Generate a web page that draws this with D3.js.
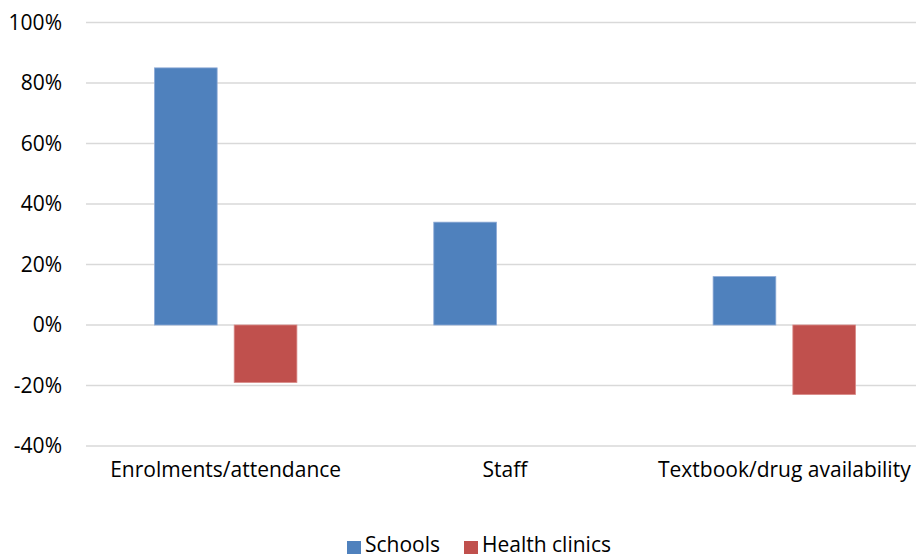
<!DOCTYPE html>
<html>
<head>
<meta charset="utf-8">
<script src="https://cdn.jsdelivr.net/npm/d3@7"></script>
<style>
  body { margin: 0; background: #fff; }
  svg text { font-family: "Open Sans", Lato, sans-serif; fill: #000; }
</style>
</head>
<body>
<svg width="916" height="557"></svg>
<script>
// Données
const categories = ["Enrolments/attendance", "Staff", "Textbook/drug availability"];
const seriesNames = ["Schools", "Health clinics"];
const schools = [0.85, 0.34, 0.16];
const clinics = [-0.19, null, -0.23];
const yTicks = [-0.4, -0.2, 0, 0.2, 0.4, 0.6, 0.8, 1.0];
const colors = ["#4F81BD", "#C0504D"];
const strokes = ["#8DAAD6", "#D98A88"];

const svg = d3.select("svg");
const margin = { left: 86, right: -8, top: 22.5, bottom: 111 };
const width = +svg.attr("width"), height = +svg.attr("height");

const x0 = d3.scaleBand()
    .domain(categories)
    .range([margin.left, width - margin.right]);

const groupW = x0.bandwidth() * 0.51;
const x1 = d3.scaleBand()
    .domain(seriesNames)
    .range([(x0.bandwidth() - groupW) / 2, (x0.bandwidth() + groupW) / 2])
    .paddingInner(0.2136);

const y = d3.scaleLinear()
    .domain([-0.4, 1.0])
    .range([height - margin.bottom, margin.top]);

const pct = d => d3.format(".0%")(d).replace("\u2212", "-");

// Grille
svg.append("g")
    .selectAll("line")
    .data(yTicks)
    .join("line")
    .attr("x1", margin.left)
    .attr("x2", width - margin.right)
    .attr("y1", d => y(d))
    .attr("y2", d => y(d))
    .attr("stroke", "#D9D9D9")
    .attr("stroke-width", 1.5);

// Étiquettes de l'axe Y
svg.append("g")
    .selectAll("text")
    .data(yTicks)
    .join("text")
    .attr("x", 62)
    .attr("y", d => y(d))
    .attr("dy", "0.35em")
    .attr("text-anchor", "end")
    .style("font-size", "21px")
    .text(pct);

// Barres
const rows = categories.map((c, i) => ({ category: c, values: [schools[i], clinics[i]] }));

const groups = svg.append("g")
    .selectAll("g")
    .data(rows)
    .join("g")
    .attr("transform", d => `translate(${x0(d.category)},0)`);

groups.selectAll("rect")
    .data(d => d.values.map((v, j) => ({ series: seriesNames[j], value: v, j })).filter(e => e.value != null))
    .join("rect")
    .attr("x", d => x1(d.series))
    .attr("width", x1.bandwidth())
    .attr("y", d => y(Math.max(0, d.value)))
    .attr("height", d => Math.abs(y(d.value) - y(0)))
    .attr("fill", d => colors[d.j])
    .attr("stroke", d => strokes[d.j])
    .attr("stroke-width", 0.8);

// Étiquettes des catégories
svg.append("g")
    .selectAll("text")
    .data(categories)
    .join("text")
    .attr("x", d => x0(d) + x0.bandwidth() / 2)
    .attr("y", 477)
    .attr("text-anchor", "middle")
    .style("font-size", "21px")
    .text(d => d);

// Légende
const legend = svg.append("g");
const legendX = [347, 464];
seriesNames.forEach((s, i) => {
    legend.append("rect")
        .attr("x", legendX[i])
        .attr("y", 541)
        .attr("width", 14)
        .attr("height", 13)
        .attr("fill", colors[i]);
    legend.append("text")
        .attr("x", legendX[i] + 18)
        .attr("y", 551.5)
        .style("font-size", "21px")
        .text(s);
});
</script>
</body>
</html>
